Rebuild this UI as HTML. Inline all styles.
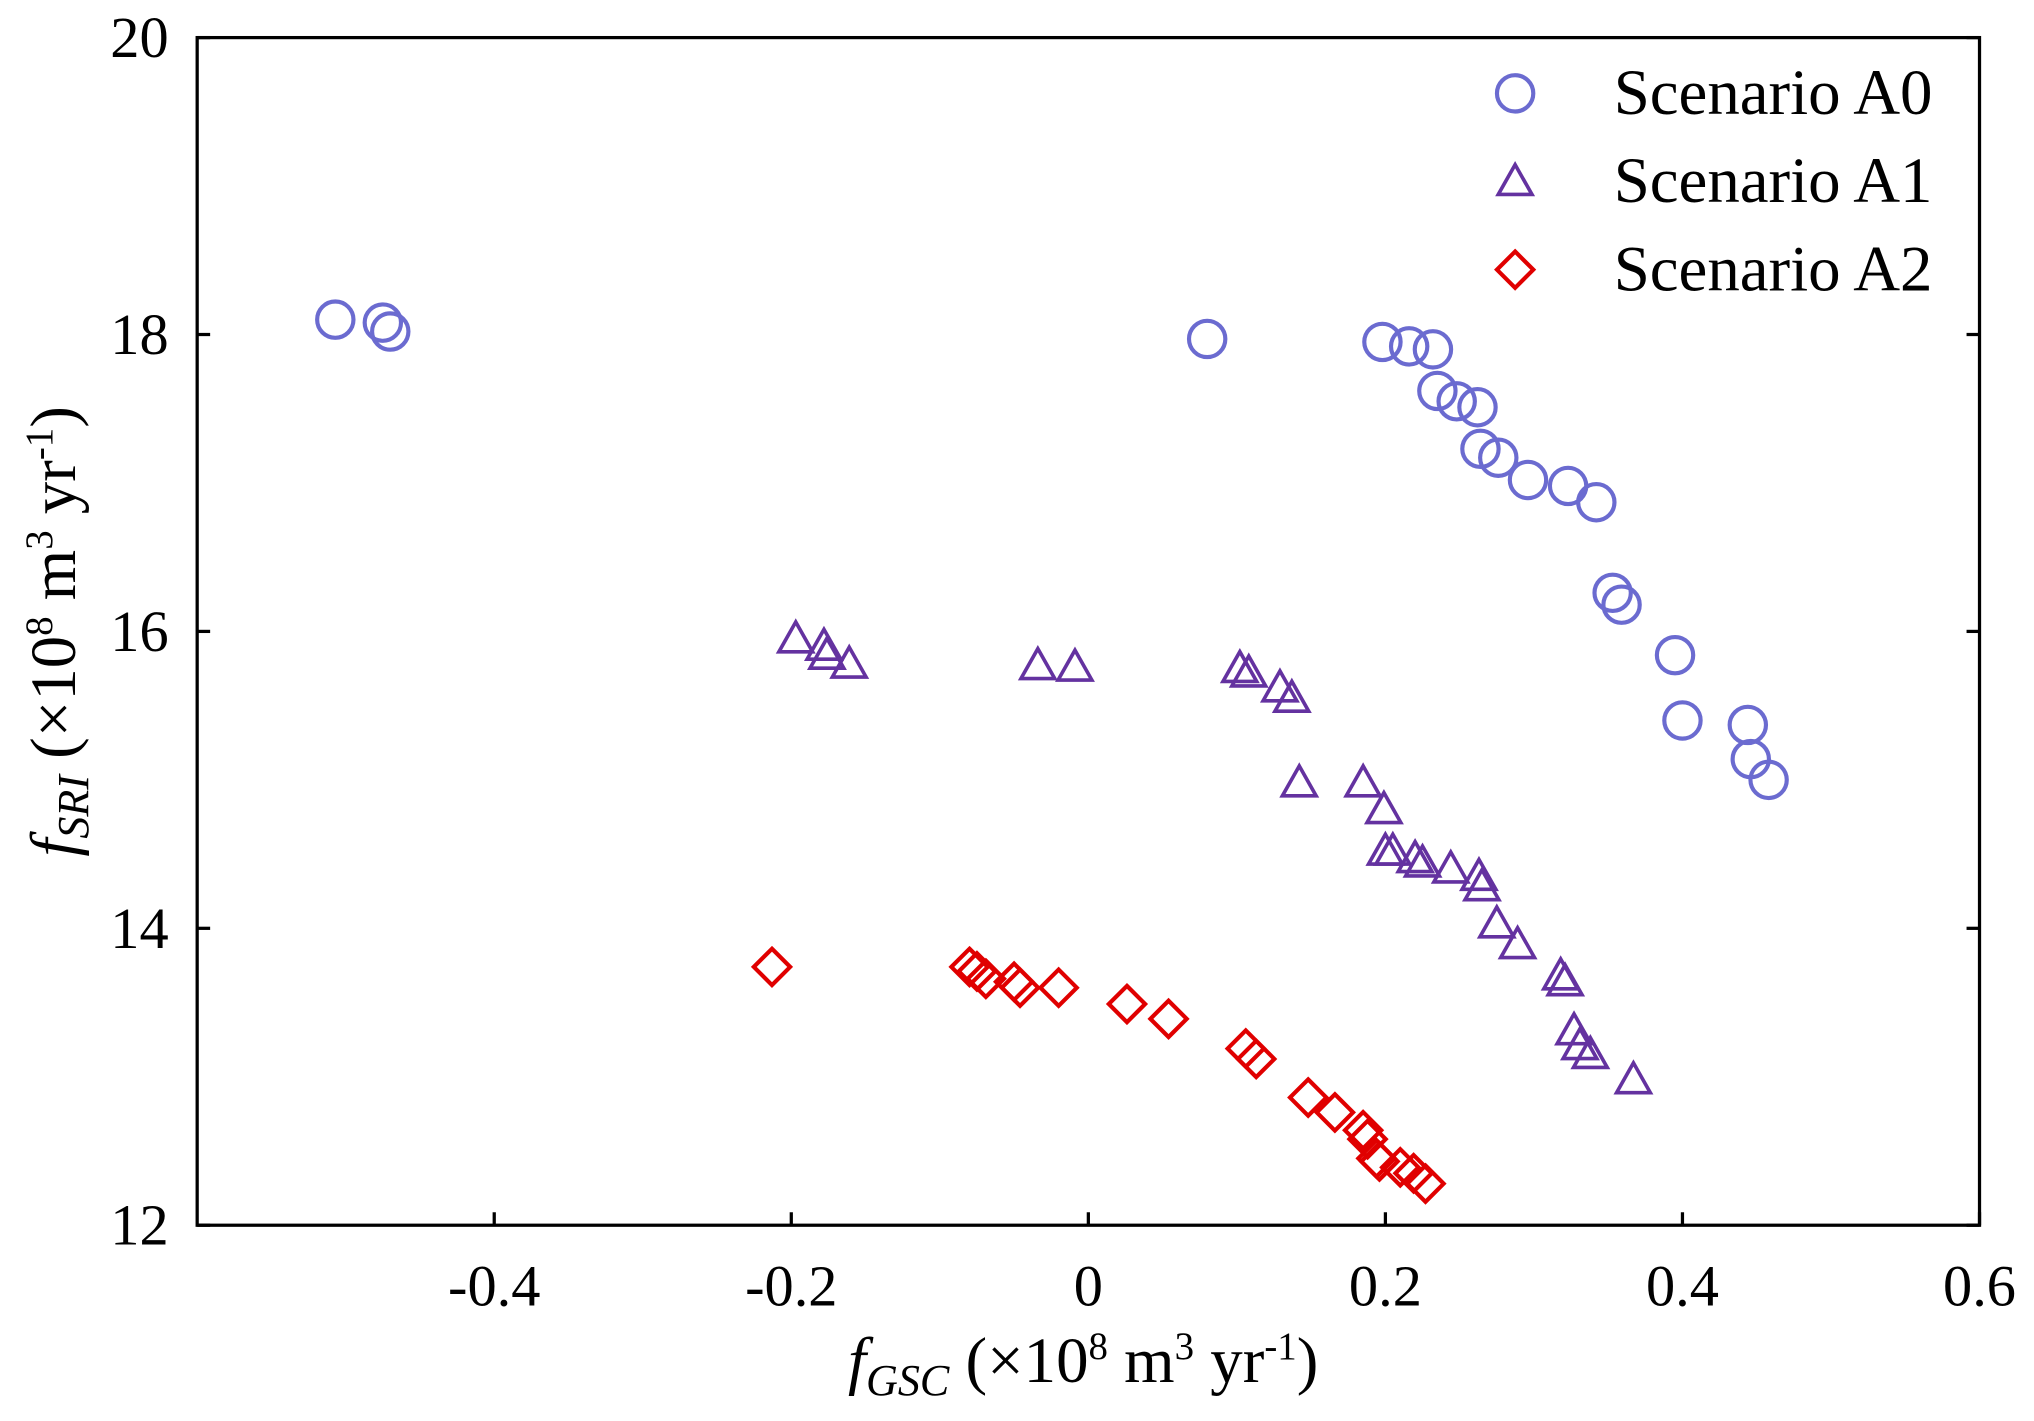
<!DOCTYPE html>
<html><head><meta charset="utf-8"><style>
html,body{margin:0;padding:0;background:#fff;}
svg{display:block;}
text{font-family:"Liberation Serif",serif;fill:#000;}
</style></head><body>
<svg id="chart" width="2034" height="1421" viewBox="0 0 1568 1096" preserveAspectRatio="none" xmlns="http://www.w3.org/2000/svg">
<g id="axes"></g>
<g id="marks"></g>
<g id="legend"></g>
<text x="835" y="1066" text-anchor="middle" font-size="50"><tspan font-style="italic">f</tspan><tspan font-style="italic" font-size="34" dy="10">GSC</tspan><tspan dy="-10"> (×10</tspan><tspan font-size="30" dy="-18">8</tspan><tspan dy="18"> m</tspan><tspan font-size="30" dy="-18">3</tspan><tspan dy="18"> yr</tspan><tspan font-size="30" dy="-18">-1</tspan><tspan dy="18">)</tspan></text>
<text transform="translate(58,487) rotate(-90)" text-anchor="middle" font-size="50"><tspan font-style="italic">f</tspan><tspan font-style="italic" font-size="34" dy="10">SRI</tspan><tspan dy="-10"> (×10</tspan><tspan font-size="30" dy="-18">8</tspan><tspan dy="18"> m</tspan><tspan font-size="30" dy="-18">3</tspan><tspan dy="18"> yr</tspan><tspan font-size="30" dy="-18">-1</tspan><tspan dy="18">)</tspan></text>
</svg>
<script>
const xTicks=[-0.4,-0.2,0,0.2,0.4,0.6];
const xTickLabels=["-0.4","-0.2","0","0.2","0.4","0.6"];
const yTicks=[12,14,16,18,20];
const yTickLabels=["12","14","16","18","20"];
const a0x=[-0.507,-0.475,-0.470,0.080,0.198,0.216,0.232,0.235,0.248,0.262,0.264,0.276,0.296,0.323,0.342,0.353,0.359,0.395,0.400,0.444,0.446,0.458];
const a0y=[18.10,18.08,18.02,17.97,17.95,17.92,17.90,17.62,17.55,17.51,17.23,17.17,17.02,16.98,16.87,16.26,16.18,15.84,15.40,15.37,15.14,15.00];
const a1x=[-0.197,-0.178,-0.176,-0.161,-0.034,-0.009,0.102,0.108,0.129,0.137,0.142,0.185,0.199,0.200,0.205,0.220,0.225,0.244,0.263,0.265,0.275,0.289,0.318,0.321,0.327,0.331,0.338,0.367];
const a1y=[15.95,15.90,15.84,15.78,15.77,15.76,15.75,15.72,15.62,15.55,14.98,14.98,14.80,14.52,14.52,14.47,14.44,14.40,14.35,14.28,14.03,13.89,13.68,13.64,13.31,13.21,13.15,12.98];
const a2x=[-0.213,-0.080,-0.075,-0.069,-0.050,-0.046,-0.020,0.026,0.054,0.106,0.113,0.148,0.166,0.185,0.188,0.194,0.196,0.210,0.219,0.227];
const a2y=[13.74,13.74,13.71,13.66,13.64,13.60,13.60,13.49,13.39,13.19,13.12,12.86,12.76,12.64,12.58,12.45,12.43,12.39,12.35,12.28];

const L=152,R=1526,T=29,B=945;
const X=v=>L+(v+0.6)/1.2*(R-L);
const Y=v=>B-(v-12)/8*(B-T);
const NS="http://www.w3.org/2000/svg";
function mk(tag,attrs,parent){const e=document.createElementNS(NS,tag);for(const k in attrs)e.setAttribute(k,attrs[k]);parent.appendChild(e);return e;}
const axes=document.getElementById('axes');
const frame=mk('rect',{x:L,y:T,width:R-L,height:B-T,fill:'none',stroke:'#000','stroke-width':2.5},axes);


xTicks.forEach((v,i)=>{
  const t=mk('line',{x1:X(v),x2:X(v),y1:B,y2:B-10,stroke:'#000','stroke-width':2.5},axes);
  
  
  const lb=mk('text',{x:X(v),y:B+62,'text-anchor':'middle','font-size':45},axes);
  lb.textContent=xTickLabels[i];
  
  
});
yTicks.forEach((v,i)=>{
  const t=mk('line',{x1:L,x2:L+10,y1:Y(v),y2:Y(v),stroke:'#000','stroke-width':2.5},axes);
  
  
  const t2=mk('line',{x1:R,x2:R-10,y1:Y(v),y2:Y(v),stroke:'#000','stroke-width':2.5},axes);
  
  
  const lb=mk('text',{x:L-22,y:Y(v)+15,'text-anchor':'end','font-size':45},axes);
  lb.textContent=yTickLabels[i];
  
  
});
const C0='#6b6bd0',C1='#6432a0',C2='#e00000';
function circle(x,y,p){return mk('circle',{cx:x,cy:y,r:14,fill:'none',stroke:C0,'stroke-width':3.2},p);}
function tri(x,y,p){return mk('polygon',{points:`${x},${y-13} ${x-13},${y+10} ${x+13},${y+10}`,fill:'none',stroke:C1,'stroke-width':2.8},p);}
function dia(x,y,p){return mk('polygon',{points:`${x},${y-14} ${x+14},${y} ${x},${y+14} ${x-14},${y}`,fill:'none',stroke:C2,'stroke-width':3.2},p);}
const marks=document.getElementById('marks');
a0x.forEach((v,i)=>{const e=circle(X(v),Y(a0y[i]),marks);
  
  });
a1x.forEach((v,i)=>{const e=tri(X(v),Y(a1y[i]),marks);
  
  });
a2x.forEach((v,i)=>{const e=dia(X(v),Y(a2y[i]),marks);
  
  });
const leg=document.getElementById('legend');
const names=["Scenario A0","Scenario A1","Scenario A2"];
const fns=[circle,tri,dia];
[72,140,208].forEach((y,i)=>{
  const m=fns[i](1168,y,leg);
  
  
  const t=mk('text',{x:1244,y:y+16,'font-size':50},leg);
  t.textContent=names[i];
  
  
});
</script>
</body></html>
